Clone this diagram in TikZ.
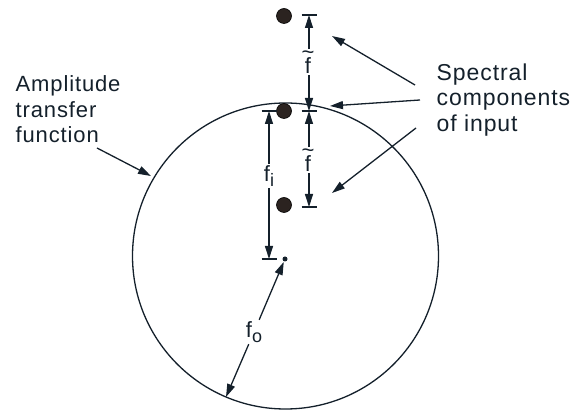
\documentclass[tikz,border=0pt]{standalone}
\usepackage{fontspec}
\setmainfont{Liberation Sans}[LetterSpace=4]
\usetikzlibrary{arrows.meta}
\definecolor{ink}{HTML}{14202B}
\definecolor{spotfill}{HTML}{2B2320}
\newcommand{\fsub}[1]{f\raisebox{-5pt}{\fontsize{18}{18}\selectfont #1}}

\begin{document}
\begin{tikzpicture}[x=1pt,y=-1pt,line width=1.3pt,draw=ink,text=ink,
    >={Triangle[length=13pt,width=8pt]},
    lbl/.style={font=\fontsize{22}{25.5}\selectfont,inner sep=1pt},
    til/.style={lbl,align=center},
    blk/.style={lbl,align=left,anchor=north west},
    spot/.style={circle,fill=spotfill,draw=black,line width=0.6pt,minimum size=15pt,inner sep=0pt},
    ctrdot/.style={circle,fill=ink,minimum size=5pt,inner sep=0pt}]
  \useasboundingbox (0,0) rectangle (576,411);
  % amplitude transfer function
  \coordinate (C) at (285.5,256);
  \draw (C) circle[radius=153pt];
  \node[ctrdot] (ctr) at (285,259) {};
  \coordinate (rim) at (226,397);
  % spectral components
  \node[spot] (s1) at (284,16) {};
  \node[spot] (s2) at (284,111) {};
  \node[spot] (s3) at (284,205) {};
  % ticks
  \coordinate (t1) at (309,15);
  \coordinate (t2) at (309,111);
  \coordinate (t3) at (309,207);
  \coordinate (ti) at (269,111);
  \coordinate (to) at (269,259);
  \foreach \t in {t1,t2,t3,ti,to}
    \draw ([xshift=-7.5pt]\t) -- ([xshift=7.5pt]\t);
  % dimensions
  \node[til] (fa) at (308,62) {\textasciitilde\\[-11pt]f};
  \draw[->] (fa.north -| t1) -- (t1);
  \draw[->] (fa.south -| t2) -- (t2);
  \node[til] (fb) at (308,160) {\textasciitilde\\[-11pt]f};
  \draw[->] (fb.north -| t2) -- (t2);
  \draw[->] (fb.south -| t3) -- (t3);
  \node[lbl] (fi) at (269,176) {\fsub{i}};
  \draw[->] (fi) -- (ti);
  \draw[->] (fi) -- (to);
  \node[lbl] (fo) at (254,332) {\fsub{o}};
  \draw[->] (fo) -- (ctr);
  \draw[->] (fo) -- (rim);
  % labels
  \node[blk] (amp) at (14,74) {Amplitude\\transfer\\function};
  \coordinate (a0) at (97,148);
  \coordinate (a1) at (151,176);
  \draw[->] (a0) -- (a1);
  \node[blk,font=\fontsize{23}{25.5}\selectfont] (spec) at (435,62) {Spectral\\components\\of input};
  \coordinate (p1) at (415,85);
  \coordinate (p2) at (420,100);
  \coordinate (p3) at (416,128);
  \coordinate (q1) at (332,36);
  \coordinate (q2) at (330,106);
  \coordinate (q3) at (332,193);
  \draw[->] (p1) -- (q1);
  \draw[->] (p2) -- (q2);
  \draw[->] (p3) -- (q3);
\end{tikzpicture}
\end{document}
